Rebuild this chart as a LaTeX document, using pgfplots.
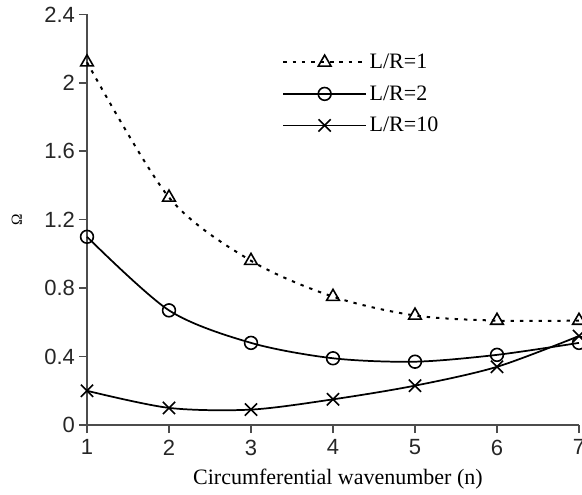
\documentclass[border=0pt]{standalone}
\usepackage{pgfplots}
\pgfplotsset{compat=1.18}
\usepackage{fontspec}
\setmainfont{Liberation Serif}
\setsansfont{Liberation Sans}

\begin{document}
\begin{tikzpicture}
\begin{axis}[
    scale only axis,
    width=369pt, height=308pt,
    axis lines=left,
    axis line style={-, black!70, line width=1.1pt},
    xmin=1, xmax=7, ymin=0, ymax=2.4,
    xtick={1,...,7},
    ytick={0,0.4,...,2.4},
    yticklabels={0,0.4,0.8,1.2,1.6,2,2.4},
    tick align=outside,
    major tick length=6pt,
    tick style={black!70, line width=1.1pt},
    /pgf/number format/assume math mode=true,
    ticklabel style={font=\sffamily\fontsize{16.5}{19}\selectfont, black!85},
    xticklabel style={yshift=-1.5pt},
    yticklabel style={xshift=0.5pt},
    xlabel={Circumferential wavenumber (n)},
    ylabel={Ω},
    xlabel style={font=\fontsize{16.5}{19}\selectfont,
        at={(axis description cs:0.51,-0.146)}, anchor=base},
    ylabel style={font=\fontsize{11.5}{13}\selectfont,
        at={(axis description cs:-0.123,0.5)}, anchor=south},
    clip=false,
    legend style={draw=none, fill=none, font=\fontsize{16.5}{19}\selectfont,
        at={(axis cs:3.33,2.20)}, anchor=north west,
        row sep=7.2pt},
    legend cell align=left,
    legend image code/.code={
        \draw[mark repeat=2, mark phase=2, #1]
        plot coordinates {(0pt,0pt) (31pt,0pt) (62pt,0pt)};
    },
]
\addplot[black, line width=1.5pt, dash pattern=on 2.5pt off 4.5pt,
    smooth, tension=0.5,
    mark=triangle, mark size=5.5pt, mark options={solid, line width=1.2pt}]
coordinates {(1,2.12) (2,1.33) (3,0.96) (4,0.75) (5,0.64) (6,0.61) (7,0.61)};
\addlegendentry{L/R=1}
\addplot[black, line width=1.3pt, smooth, tension=0.5,
    mark=o, mark size=4.8pt, mark options={solid, line width=1.2pt}]
coordinates {(1,1.10) (2,0.67) (3,0.48) (4,0.39) (5,0.37) (6,0.41) (7,0.48)};
\addlegendentry{L/R=2}
\addplot[black, line width=1.3pt, smooth, tension=0.5,
    mark=x, mark size=6.5pt, mark options={solid, line width=1.2pt}]
coordinates {(1,0.20) (2,0.10) (3,0.09) (4,0.15) (5,0.23) (6,0.34) (7,0.52)};
\addlegendentry{L/R=10}
\end{axis}
\pgfresetboundingbox
\useasboundingbox (-65.25pt,-51.75pt) rectangle (371.25pt,318.75pt);
\end{tikzpicture}
\end{document}
